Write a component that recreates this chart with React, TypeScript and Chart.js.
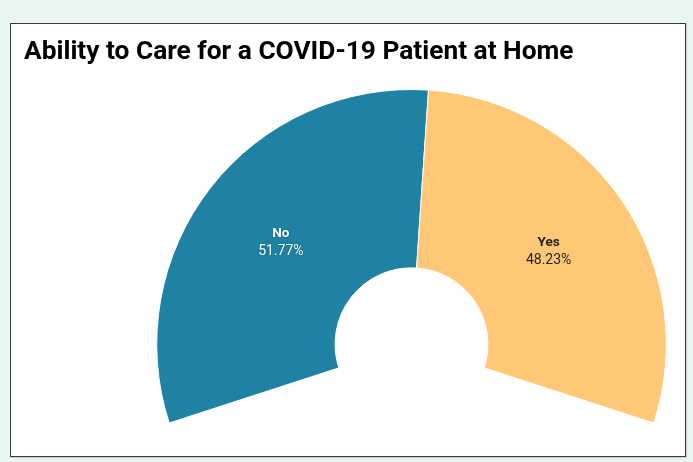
import React, { useEffect, useRef } from "react";
import { Chart, registerables } from "chart.js";

Chart.register(...registerables);

const title = "Ability to Care for a COVID-19 Patient at Home";
const categories = ["No", "Yes"];
const values = [51.77, 48.23];
const colors = ["#1F82A2", "#FEC877"];
const labelColors = ["#ffffff", "#222222"];

const labelPlugin = {
  id: "sliceLabels",
  afterDatasetsDraw(chart: any) {
    const meta = chart.getDatasetMeta(0);
    const ctx = chart.ctx;
    meta.data.forEach((arc: any, i: number) => {
      const p = arc.tooltipPosition();
      ctx.save();
      ctx.textAlign = "center";
      ctx.textBaseline = "middle";
      ctx.fillStyle = labelColors[i];
      if (i === 0) {
        ctx.shadowColor = "rgba(0,0,0,0.35)";
        ctx.shadowBlur = 2;
      }
      ctx.font = "bold 13.5px Roboto";
      ctx.fillText(categories[i], p.x, p.y - 9);
      ctx.font = "14px Roboto";
      ctx.fillText(values[i].toFixed(2) + "%", p.x, p.y + 9);
      ctx.restore();
    });
  },
};

export default function App() {
  const ref = useRef<HTMLCanvasElement>(null);
  useEffect(() => {
    document.body.style.margin = "0";
    document.body.style.background = "#eaf6f1";
    const chart = new Chart(ref.current!, {
      type: "doughnut",
      data: {
        labels: categories,
        datasets: [
          {
            data: values,
            backgroundColor: colors,
            borderColor: "#ffffff",
            borderWidth: 1,
          },
        ],
      },
      options: {
        animation: false,
        responsive: false,
        rotation: -108,
        circumference: 216,
        cutout: "30%",
        layout: { padding: { top: 65, bottom: 32.5, left: 140, right: 13 } },
        plugins: {
          legend: { display: false },
          tooltip: { enabled: false },
          title: { display: false },
        },
      },
      plugins: [labelPlugin],
    });
    return () => chart.destroy();
  }, []);
  return (
    <div style={{ position: "relative", width: 693, height: 462, background: "#eaf6f1", overflow: "hidden" }}>
      <div
        style={{
          position: "absolute",
          left: 10,
          top: 23,
          width: 674,
          height: 432,
          border: "1px solid #3a3a3a",
          background: "#ffffff",
          boxShadow: "1px 1px 1px rgba(0,0,0,0.15)",
        }}
      >
        <canvas ref={ref} width={674} height={432} style={{ position: "absolute", left: 0, top: 0 }} />
        <div
          style={{
            position: "absolute",
            left: 13,
            top: 11,
            font: "700 26.3px Roboto",
            lineHeight: "30px",
            color: "#000",
            whiteSpace: "nowrap",
          }}
        >
          {title}
        </div>
      </div>
    </div>
  );
}
